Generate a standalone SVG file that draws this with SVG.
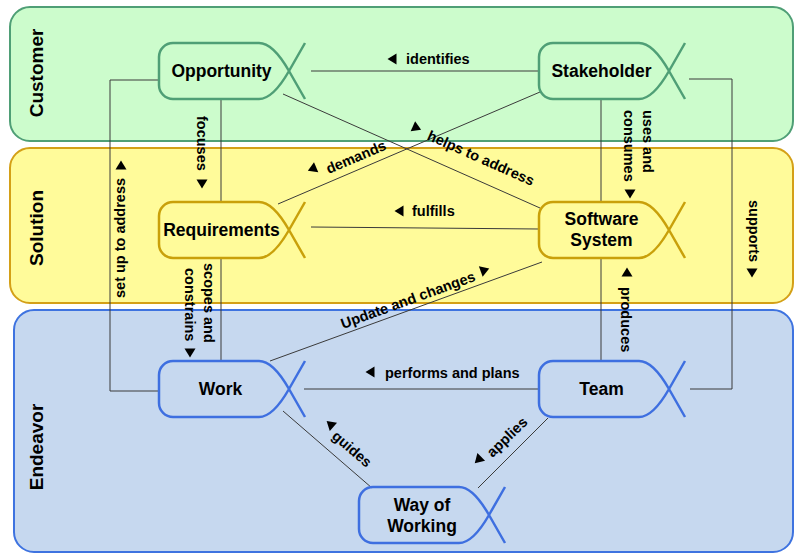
<svg xmlns="http://www.w3.org/2000/svg" xmlns:xlink="http://www.w3.org/1999/xlink" width="794" height="554" viewBox="0 0 794 554">
<defs>
<style>
text{font-family:"Liberation Sans",Arial,sans-serif;font-weight:bold;fill:#000}
.lane-t{font-size:19px;text-anchor:middle;dominant-baseline:central}
.nt{font-size:17.5px;text-anchor:middle}
.lt{font-size:14.5px}
.lc{font-size:14.5px;text-anchor:middle;dominant-baseline:central}
.conn{fill:none;stroke:#3a3a3a;stroke-width:1}
.ng{fill:none;stroke:#4f9f76;stroke-width:2.5}
.ny{fill:none;stroke:#c9a00a;stroke-width:2.5}
.nb{fill:none;stroke:#3e6fe0;stroke-width:2.5}
.ar{fill:#000}
</style>
<path id="tri" d="M-4.5,0 L4.5,-5.5 L4.5,5.5 Z"/>
</defs>
<g id="lanes">
<rect id="lane-customer" x="10" y="7" width="783" height="134" rx="20" fill="#ccfccc" stroke="#4f9f76" stroke-width="2"/>
<rect id="lane-solution" x="10" y="148" width="783" height="155" rx="20" fill="#fffb9a" stroke="#d4a017" stroke-width="2"/>
<rect id="lane-endeavor" x="14" y="310" width="779" height="242" rx="20" fill="#c6d8ef" stroke="#3e73e0" stroke-width="2"/>
<text class="lane-t" transform="translate(36,73) rotate(-90)">Customer</text>
<text class="lane-t" transform="translate(36,228) rotate(-90)">Solution</text>
<text class="lane-t" transform="translate(36,447) rotate(-90)">Endeavor</text>
</g>
<g id="connectors">
<path class="conn" d="M311,71 H539"/>
<path class="conn" d="M159,80 H110 V391 H159"/>
<path class="conn" d="M221,99 V202"/>
<path class="conn" d="M221,258 V361"/>
<path class="conn" d="M283,94 L540,208"/>
<path class="conn" d="M540,92 L278,204"/>
<path class="conn" d="M601,99 V202"/>
<path class="conn" d="M601,258 V361"/>
<path class="conn" d="M689,79 H732 V389 H690"/>
<path class="conn" d="M311,227 L539,229"/>
<path class="conn" d="M270,361 L542,262"/>
<path class="conn" d="M304,389 H539"/>
<path class="conn" d="M283,411 L372,488"/>
<path class="conn" d="M548,418 L478,488"/>
</g>
<g id="connector-labels">
<use href="#tri" class="ar" transform="translate(392,59)"/>
<text class="lt" x="406" y="64">identifies</text>
<use href="#tri" class="ar" transform="translate(399,211)"/>
<text class="lt" x="412" y="216">fulfills</text>
<use href="#tri" class="ar" transform="translate(370,372)"/>
<text class="lt" x="385" y="378">performs and plans</text>
<text class="lt" transform="translate(197,116) rotate(90)">focuses</text>
<use href="#tri" class="ar" transform="translate(202,184) rotate(-90)"/>
<text class="lt" transform="translate(203.5,263) rotate(90)">scopes and</text>
<text class="lt" transform="translate(184.5,268) rotate(90)">constrains</text>
<use href="#tri" class="ar" transform="translate(190,353) rotate(-90)"/>
<text class="lt" transform="translate(125,298) rotate(-90)">set up to address</text>
<use href="#tri" class="ar" transform="translate(121,165) rotate(90)"/>
<text class="lt" transform="translate(643,110) rotate(90)">uses and</text>
<text class="lt" transform="translate(624,110) rotate(90)">consumes</text>
<use href="#tri" class="ar" transform="translate(630,194) rotate(-90)"/>
<text class="lt" transform="translate(621,287) rotate(90)">produces</text>
<use href="#tri" class="ar" transform="translate(627,272) rotate(90)"/>
<text class="lt" transform="translate(749,200) rotate(90)">supports</text>
<use href="#tri" class="ar" transform="translate(752,273) rotate(-90)"/>
<text class="lc" transform="translate(481,158) rotate(24)">helps to address</text>
<use href="#tri" class="ar" transform="translate(417,128) rotate(204)"/>
<text class="lc" transform="translate(356,157) rotate(-23)">demands</text>
<use href="#tri" class="ar" transform="translate(312,169) rotate(-23)"/>
<text class="lc" transform="translate(408,300) rotate(-20)">Update and changes</text>
<use href="#tri" class="ar" transform="translate(485,270) rotate(160)"/>
<text class="lc" transform="translate(352,449) rotate(41)">guides</text>
<use href="#tri" class="ar" transform="translate(330,424) rotate(41)"/>
<text class="lc" transform="translate(507,437) rotate(-44)">applies</text>
<use href="#tri" class="ar" transform="translate(478,460) rotate(-44)"/>
</g>
<g id="node-opportunity">
<path class="ng" d="M305,43 L289,71 Q273,99 259,99 H173 A14,14 0 0 1 159,85 V57 A14,14 0 0 1 173,43 H259 Q273,43 289,71 L305,99"/>
<text class="nt" x="221.5" y="77">Opportunity</text>
</g>
<g id="node-stakeholder">
<path class="ng" d="M685,43 L669,71 Q653,99 639,99 H553 A14,14 0 0 1 539,85 V57 A14,14 0 0 1 553,43 H639 Q653,43 669,71 L685,99"/>
<text class="nt" x="601.5" y="77">Stakeholder</text>
</g>
<g id="node-requirements">
<path class="ny" d="M305,202 L289,230 Q273,258 259,258 H173 A14,14 0 0 1 159,244 V216 A14,14 0 0 1 173,202 H259 Q273,202 289,230 L305,258"/>
<text class="nt" x="221.5" y="236">Requirements</text>
</g>
<g id="node-software-system">
<path class="ny" d="M685,202 L669,230 Q653,258 639,258 H553 A14,14 0 0 1 539,244 V216 A14,14 0 0 1 553,202 H639 Q653,202 669,230 L685,258"/>
<text class="nt" x="601.5" y="225">Software</text>
<text class="nt" x="601.5" y="246">System</text>
</g>
<g id="node-work">
<path class="nb" d="M305,361 L289,389 Q273,417 259,417 H173 A14,14 0 0 1 159,403 V375 A14,14 0 0 1 173,361 H259 Q273,361 289,389 L305,417"/>
<text class="nt" x="220.5" y="395">Work</text>
</g>
<g id="node-team">
<path class="nb" d="M685,361 L669,389 Q653,417 639,417 H553 A14,14 0 0 1 539,403 V375 A14,14 0 0 1 553,361 H639 Q653,361 669,389 L685,417"/>
<text class="nt" x="601.5" y="395">Team</text>
</g>
<g id="node-way-of-working">
<path class="nb" d="M505,487 L489,515 Q473,543 459,543 H373 A14,14 0 0 1 359,529 V501 A14,14 0 0 1 373,487 H459 Q473,487 489,515 L505,543"/>
<text class="nt" x="422" y="511">Way of</text>
<text class="nt" x="422" y="532">Working</text>
</g>
</svg>
